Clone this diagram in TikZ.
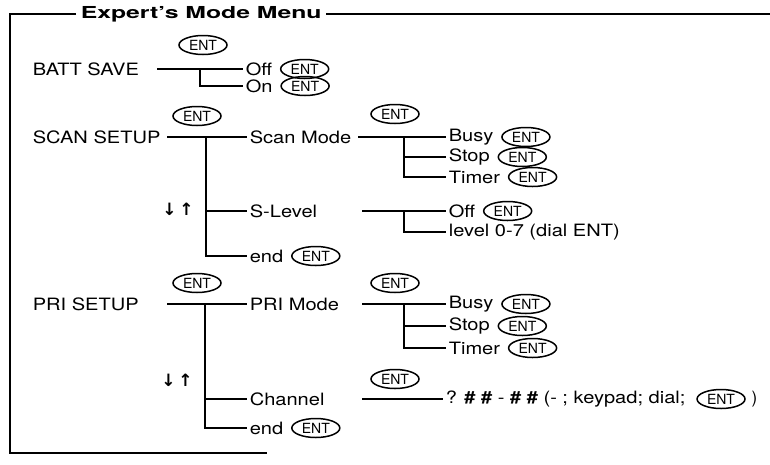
\documentclass[tikz,border=0pt]{standalone}
\usepackage{fontspec}
\usepackage{graphicx}
\setmainfont{TeX Gyre Heros}
\newfontfamily\symfont{DejaVu Sans}
\usetikzlibrary{positioning,shapes.geometric}

\newcommand{\wtxt}[1]{\scalebox{1.18}[1]{#1}}

\tikzset{
  lbl/.style={anchor=west, inner sep=2pt, font=\fontsize{17}{20}\selectfont},
  ent/.style={ellipse, draw, line width=1.5pt, minimum width=48pt, minimum height=19pt, inner sep=0pt, font=\fontsize{14}{15}\selectfont},
  updown/.style={inner sep=1pt, font=\symfont\bfseries\fontsize{17}{19}\selectfont},
}

\begin{document}
\begin{tikzpicture}[x=1pt, y=-1pt, line width=1.6pt]
  \useasboundingbox (0,0) rectangle (770,464);

  % 外框
  \node[anchor=west, inner sep=4pt, font=\bfseries\fontsize{16.5}{18}\selectfont] (title) at (76,14) {\scalebox{1.5}[1]{Expert's Mode Menu}};
  \coordinate (tl) at (10,14);
  \coordinate (tr) at (770,14);
  \coordinate (bl) at (10,453);
  \coordinate (br) at (267,453);
  \draw (title.west) -- (tl) -- (bl) -- (br);
  \draw (title.east) -- (tr);

  % BATT SAVE
  \node[lbl] (batt) at (30,69) {\wtxt{BATT SAVE}};
  \node[ent] (battent) at (203,45) {ENT};
  \coordinate (battA) at (157,69);
  \coordinate (battJ) at (200,69);
  \node[lbl] (battoff) at (243,69) {\wtxt{Off}};
  \node[ent, right=5pt of battoff] (battoffent) {ENT};
  \node[lbl] (batton) at (243,86) {\wtxt{On}};
  \node[ent, right=5pt of batton] (battonent) {ENT};
  \draw (battA) -- (battoff.west);
  \draw (battJ) |- (batton.west);

  % SCAN SETUP
  \node[lbl] (scan) at (30,137) {\wtxt{SCAN SETUP}};
  \node[ent] (scanent) at (197,116) {ENT};
  \coordinate (scanA) at (167,137);
  \coordinate (scanJ) at (206,137);
  \node[lbl] (scanmode) at (247,137) {\wtxt{Scan Mode}};
  \node[lbl] (slevel) at (247,211) {\wtxt{S-Level}};
  \node[lbl] (scanend) at (247,256) {\wtxt{end}};
  \node[ent, right=5pt of scanend] (scanendent) {ENT};
  \node[updown] (scanarr) at (178,209) {↓\hspace{3pt}↑};
  \draw (scanA) -- (scanmode.west);
  \draw (scanJ) |- (slevel.west);
  \draw (scanJ) |- (scanend.west);

  % Scan Mode
  \node[ent] (sment) at (395,114) {ENT};
  \coordinate (smA) at (358,137);
  \coordinate (smJ) at (404,137);
  \node[lbl] (busy1) at (446,137) {\wtxt{Busy}};
  \node[ent, right=5pt of busy1] (busy1ent) {ENT};
  \node[lbl] (stop1) at (446,157) {\wtxt{Stop}};
  \node[ent, right=5pt of stop1] (stop1ent) {ENT};
  \node[lbl] (timer1) at (446,177) {\wtxt{Timer}};
  \node[ent, right=5pt of timer1] (timer1ent) {ENT};
  \draw (smA) -- (busy1.west);
  \draw (smJ) |- (stop1.west);
  \draw (smJ) |- (timer1.west);

  % S-Level
  \coordinate (slA) at (362,211);
  \coordinate (slJ) at (404,211);
  \node[lbl] (sloff) at (446,211) {\wtxt{Off}};
  \node[ent, right=5pt of sloff] (sloffent) {ENT};
  \node[lbl] (sllevel) at (446,232) {\wtxt{level 0-7 (dial ENT)}};
  \draw (slA) -- (sloff.west);
  \draw (slJ) |- (sllevel.west);

  % PRI SETUP
  \node[lbl] (pri) at (30,304) {\wtxt{PRI SETUP}};
  \node[ent] (prient) at (197,283) {ENT};
  \coordinate (priA) at (167,304);
  \coordinate (priJ) at (205,304);
  \node[lbl] (primode) at (247,304) {\wtxt{PRI Mode}};
  \node[lbl] (channel) at (247,399) {\wtxt{Channel}};
  \node[lbl] (priend) at (247,428) {\wtxt{end}};
  \node[ent, right=5pt of priend] (priendent) {ENT};
  \node[updown] (priarr) at (177,380) {↓\hspace{3pt}↑};
  \draw (priA) -- (primode.west);
  \draw (priJ) |- (channel.west);
  \draw (priJ) |- (priend.west);

  % PRI Mode
  \node[ent] (pment) at (395,283) {ENT};
  \coordinate (pmA) at (362,304);
  \coordinate (pmJ) at (404,304);
  \node[lbl] (busy2) at (446,304) {\wtxt{Busy}};
  \node[ent, right=5pt of busy2] (busy2ent) {ENT};
  \node[lbl] (stop2) at (446,326) {\wtxt{Stop}};
  \node[ent, right=5pt of stop2] (stop2ent) {ENT};
  \node[lbl] (timer2) at (446,348) {\wtxt{Timer}};
  \node[ent, right=5pt of timer2] (timer2ent) {ENT};
  \draw (pmA) -- (busy2.west);
  \draw (pmJ) |- (stop2.west);
  \draw (pmJ) |- (timer2.west);

  % Channel
  \node[ent] (chent) at (395,379) {ENT};
  \coordinate (chA) at (362,399);
  \node[lbl] (chtxt) at (443,399) {\wtxt{? \textbf{\#} \textbf{\#} - \textbf{\#} \textbf{\#} (- ; keypad; dial;}};
  \node[ent, right=8pt of chtxt] (chtxtent) {ENT};
  \node[lbl, right=3pt of chtxtent] (chclose) {)};
  \draw (chA) -- (chtxt.west);
\end{tikzpicture}
\end{document}
